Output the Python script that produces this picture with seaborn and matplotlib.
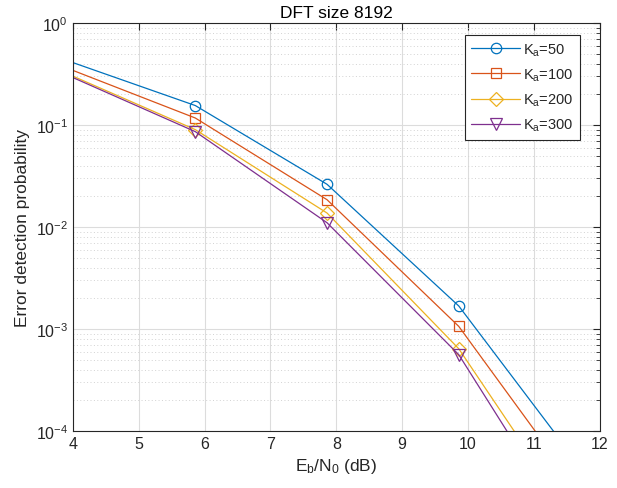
import matplotlib
matplotlib.use("Agg")
import matplotlib.pyplot as plt
import matplotlib.ticker as mticker
import pandas as pd
import seaborn as sns

# Eb/N0 points (first and last fall outside the visible x-range)
ebn0 = [3.86, 5.86, 7.86, 9.86, 11.86]

pe_ka50 = [0.44, 0.155, 0.0262, 1.68e-3, 3.3e-5]
pe_ka100 = [0.372, 0.117, 0.0185, 1.06e-3, 1.8e-5]
pe_ka200 = [0.330, 0.090, 0.0137, 6.4e-4, 7.7e-6]
pe_ka300 = [0.320, 0.086, 0.0110, 5.6e-4, 5.0e-6]

labels = ["K$_a$=50", "K$_a$=100", "K$_a$=200", "K$_a$=300"]
colors = ["#0072BD", "#D95319", "#EDB120", "#7E2F8E"]
markers = ["o", "s", "D", "v"]
msizes = [7.5, 7, 7, 8]

sns.set_style("white")
plt.rcParams["font.family"] = ["Liberation Sans", "DejaVu Sans"]
plt.rcParams["mathtext.fontset"] = "custom"
plt.rcParams["mathtext.rm"] = "Liberation Sans"
plt.rcParams["mathtext.it"] = "Liberation Sans"

fig = plt.figure(figsize=(6.17, 4.89), dpi=100)
ax = fig.add_axes([0.118, 0.1166, 0.854, 0.8344])

series = [pe_ka50, pe_ka100, pe_ka200, pe_ka300]
for vals, lab, c, m, ms in zip(series, labels, colors, markers, msizes):
    df = pd.DataFrame({"x": ebn0, "y": vals})
    sns.lineplot(data=df, x="x", y="y", ax=ax, color=c, marker=m, markersize=ms,
                 markerfacecolor="none", markeredgecolor=c, markeredgewidth=0.9,
                 linewidth=0.9, label=lab)

ax.set_yscale("log")
ax.set_xlim(4, 12)
ax.set_ylim(1e-4, 1)
ax.set_xticks(range(4, 13))
ax.yaxis.set_major_locator(mticker.LogLocator(base=10, numticks=10))
ax.yaxis.set_minor_locator(mticker.LogLocator(base=10, subs=range(2, 10), numticks=10))
ax.yaxis.set_minor_formatter(mticker.NullFormatter())

ax.grid(True, which="major", color="#dcdcdc", linewidth=0.8, linestyle="-")
ax.grid(True, which="minor", axis="y", color="#d2d2d2", linewidth=0.7, linestyle=(0, (1, 2.5)))
ax.set_axisbelow(True)

for s in ax.spines.values():
    s.set_color("#262626")
    s.set_linewidth(0.8)
ax.tick_params(which="both", direction="in", top=True, right=True, colors="#262626",
               labelsize=11.5, labelcolor="#262626")
ax.tick_params(which="major", length=5)
ax.tick_params(which="minor", length=3)

ax.set_xlabel("E$_b$/N$_0$ (dB)", fontsize=12.5, color="#262626")
ax.set_ylabel("Error detection probability", fontsize=12.5, color="#262626")
ax.set_title("DFT size 8192", fontsize=12.5, color="black", pad=4)

leg = ax.legend(loc="upper right", bbox_to_anchor=(0.963, 0.971), borderaxespad=0,
                fontsize=10.5, handlelength=3.3, handletextpad=0.25, fancybox=False,
                edgecolor="#262626", framealpha=1, borderpad=0.45, labelspacing=0.6)
leg.get_frame().set_linewidth(0.8)

fig.savefig("out.png", dpi=100)
